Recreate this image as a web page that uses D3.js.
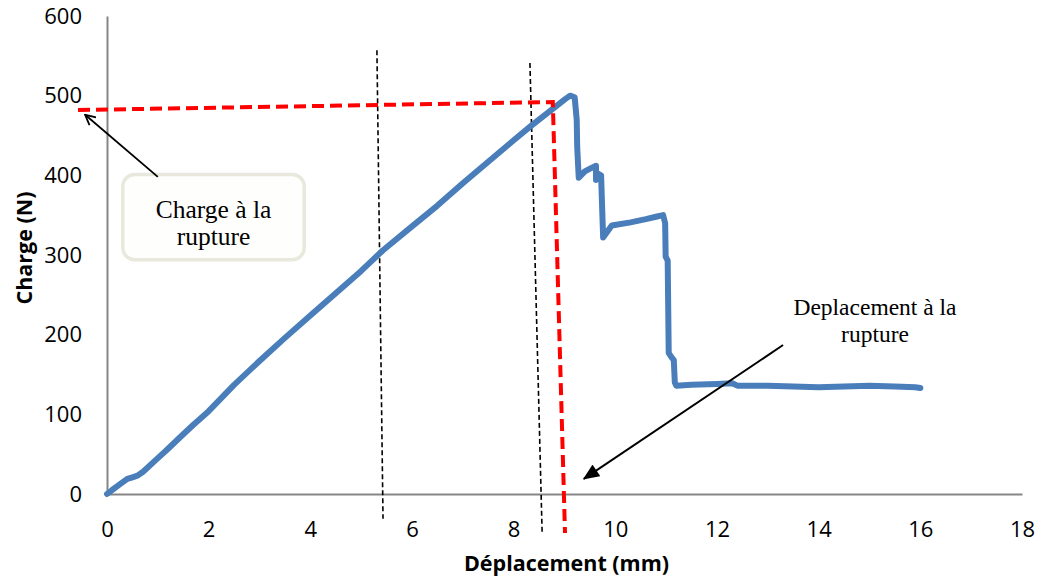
<!DOCTYPE html>
<html>
<head>
<meta charset="utf-8">
<script src="https://cdn.jsdelivr.net/npm/d3@7"></script>
<style>
  body { margin: 0; background: #fff; }
  .tick-label { font-family: "Open Sans", sans-serif; font-size: 22px; fill: #000; }
  .axis-title { font-family: "Open Sans", sans-serif; font-size: 21.5px; font-weight: bold; fill: #000; }
  .note { font-family: "Liberation Serif", "Times New Roman", serif; fill: #000; }
</style>
</head>
<body>
<svg id="chart"></svg>
<script>
// curve data: displacement (mm) / load (N)
var dispValues = [0, 0.1, 0.25, 0.4, 0.5, 0.6, 0.71, 1.0, 1.17, 1.5, 1.7, 2.0, 2.5, 3.0, 3.5, 4.0, 4.5, 5.0,
    5.43, 6.0, 6.5, 7.0, 7.5, 8.0, 8.36, 8.7, 9.0, 9.11, 9.2, 9.24, 9.25, 9.28, 9.4, 9.55,
    9.62, 9.62, 9.66, 9.72, 9.74, 9.76, 9.93, 10.3, 10.6, 10.8, 10.94, 10.98, 10.99, 11.03,
    11.05, 11.1, 11.15, 11.17, 11.2, 11.5, 12.0, 12.3, 12.4, 13.0, 13.5, 14.0, 14.5, 15.0,
    15.5, 15.9, 16.0];
var loadValues = [0, 5, 12, 19, 21, 23, 28, 45, 55, 75, 87, 104, 137, 167, 196, 224, 252, 280,
    306, 336, 362, 390, 417, 444, 463, 480, 495, 500, 498, 470, 435, 397, 405, 410,
    412, 394, 402, 400, 360, 322, 337, 341, 345, 348, 350, 340, 298, 293,
    177, 172, 168, 140, 136, 137, 138, 139, 136, 136, 135, 134, 135, 136,
    135, 134, 133];

// axis ticks
var xTicks = [0, 2, 4, 6, 8, 10, 12, 14, 16, 18];
var yTicks = [0, 100, 200, 300, 400, 500, 600];

// annotation guides (data units)
var redGuide = [[-0.57, 482], [8.77, 492], [9.01, -49]];
var blackGuides = [
    [[5.31, 557], [5.43, -31]],
    [[8.32, 541], [8.56, -49]]
];
var arrowCharge = [[1.0, 398], [-0.43, 476]];
var arrowDepl = [[13.3, 187], [9.38, 19]];
var boxCharge = { x0: 0.31, x1: 3.88, y0: 401, y1: 294 };
var labelCharge = ["Charge à la", "rupture"];
var labelDepl = ["Deplacement à la", "rupture"];

var wtot = 1040, htot = 579;
var margin = { top: 16, right: 18, bottom: 85, left: 107 };

var svg = d3.select("#chart")
    .attr("width", wtot)
    .attr("height", htot)
    .attr("viewBox", "0 0 " + wtot + " " + htot);

var defs = svg.append("defs");
defs.append("marker")
    .attr("id", "open-head")
    .attr("viewBox", "0 0 12 12")
    .attr("refX", 11).attr("refY", 6)
    .attr("markerWidth", 12).attr("markerHeight", 12)
    .attr("markerUnits", "userSpaceOnUse")
    .attr("orient", "auto")
    .append("path")
    .attr("d", "M1,1 L11,6 L1,11")
    .attr("fill", "none")
    .attr("stroke", "#000")
    .attr("stroke-width", 1.8);
defs.append("marker")
    .attr("id", "solid-head")
    .attr("viewBox", "0 0 14 12")
    .attr("refX", 13).attr("refY", 6)
    .attr("markerWidth", 17).attr("markerHeight", 14)
    .attr("markerUnits", "userSpaceOnUse")
    .attr("orient", "auto")
    .append("path")
    .attr("d", "M0,0 L14,6 L0,12 Z")
    .attr("fill", "#000");

var xScale = d3.scaleLinear([0, 18], [margin.left, wtot - margin.right]);
var yScale = d3.scaleLinear([0, 600], [htot - margin.bottom, margin.top]);

// axes (no tick marks, grey domain lines)
var xAxis = d3.axisBottom(xScale).tickValues(xTicks).tickSize(0).tickPadding(27);
var yAxis = d3.axisLeft(yScale).tickValues(yTicks).tickSize(0).tickPadding(25);

svg.append("g")
    .attr("transform", `translate(0,${yScale(0)})`)
    .call(xAxis)
    .call(g => g.select(".domain").attr("stroke", "#868686").attr("stroke-width", 2));

svg.append("g")
    .attr("transform", `translate(${xScale(0)},0)`)
    .call(yAxis)
    .call(g => g.select(".domain").attr("stroke", "#868686").attr("stroke-width", 2));

svg.selectAll(".tick text").attr("class", "tick-label").attr("fill", null);
svg.selectAll("g").filter(function() { return this.hasAttribute("font-family"); })
    .attr("font-family", null).attr("font-size", null);

// axis titles
svg.append("text")
    .attr("class", "axis-title")
    .attr("x", (xScale(0) + xScale(18)) / 2 + 2)
    .attr("y", 571)
    .attr("text-anchor", "middle")
    .text("Déplacement (mm)");

svg.append("text")
    .attr("class", "axis-title")
    .attr("transform", "translate(32,248) rotate(-90)")
    .attr("text-anchor", "middle")
    .text("Charge (N)");

// black dashed guides
var guideLine = d3.line().x(d => xScale(d[0])).y(d => yScale(d[1]));
svg.append("g")
    .selectAll("path")
    .data(blackGuides)
    .join("path")
    .attr("d", guideLine)
    .attr("fill", "none")
    .attr("stroke", "#000")
    .attr("stroke-width", 1.6)
    .attr("stroke-dasharray", "5,3");

// curve
var I = d3.range(dispValues.length);
var line = d3.line()
    .x(i => xScale(dispValues[i]))
    .y(i => yScale(loadValues[i]));

svg.append("path")
    .attr("d", line(I))
    .attr("fill", "none")
    .attr("stroke", "#4a7ebb")
    .attr("stroke-width", 6)
    .attr("stroke-linejoin", "round")
    .attr("stroke-linecap", "round");

// red dashed guide
svg.append("path")
    .attr("d", guideLine(redGuide))
    .attr("fill", "none")
    .attr("stroke", "#ff0000")
    .attr("stroke-width", 4)
    .attr("stroke-dasharray", "12,6");

// callout box
svg.append("rect")
    .attr("x", xScale(boxCharge.x0))
    .attr("y", yScale(boxCharge.y0))
    .attr("width", xScale(boxCharge.x1) - xScale(boxCharge.x0))
    .attr("height", yScale(boxCharge.y1) - yScale(boxCharge.y0))
    .attr("rx", 12)
    .attr("fill", "#fefefc")
    .attr("stroke", "#e8e8dd")
    .attr("stroke-width", 3.5);

var boxCx = (xScale(boxCharge.x0) + xScale(boxCharge.x1)) / 2;
svg.append("g")
    .selectAll("text")
    .data(labelCharge)
    .join("text")
    .attr("class", "note")
    .attr("font-size", 25.5)
    .attr("x", boxCx)
    .attr("y", (d, i) => 218 + i * 27)
    .attr("text-anchor", "middle")
    .text(d => d);

svg.append("g")
    .selectAll("text")
    .data(labelDepl)
    .join("text")
    .attr("class", "note")
    .attr("font-size", 23.5)
    .attr("x", 875)
    .attr("y", (d, i) => 315 + i * 27)
    .attr("text-anchor", "middle")
    .text(d => d);

// arrows
svg.append("path")
    .attr("d", guideLine(arrowCharge))
    .attr("stroke", "#000")
    .attr("stroke-width", 1.8)
    .attr("marker-end", "url(#open-head)");

svg.append("path")
    .attr("d", guideLine(arrowDepl))
    .attr("stroke", "#000")
    .attr("stroke-width", 2)
    .attr("marker-end", "url(#solid-head)");
</script>
</body>
</html>
